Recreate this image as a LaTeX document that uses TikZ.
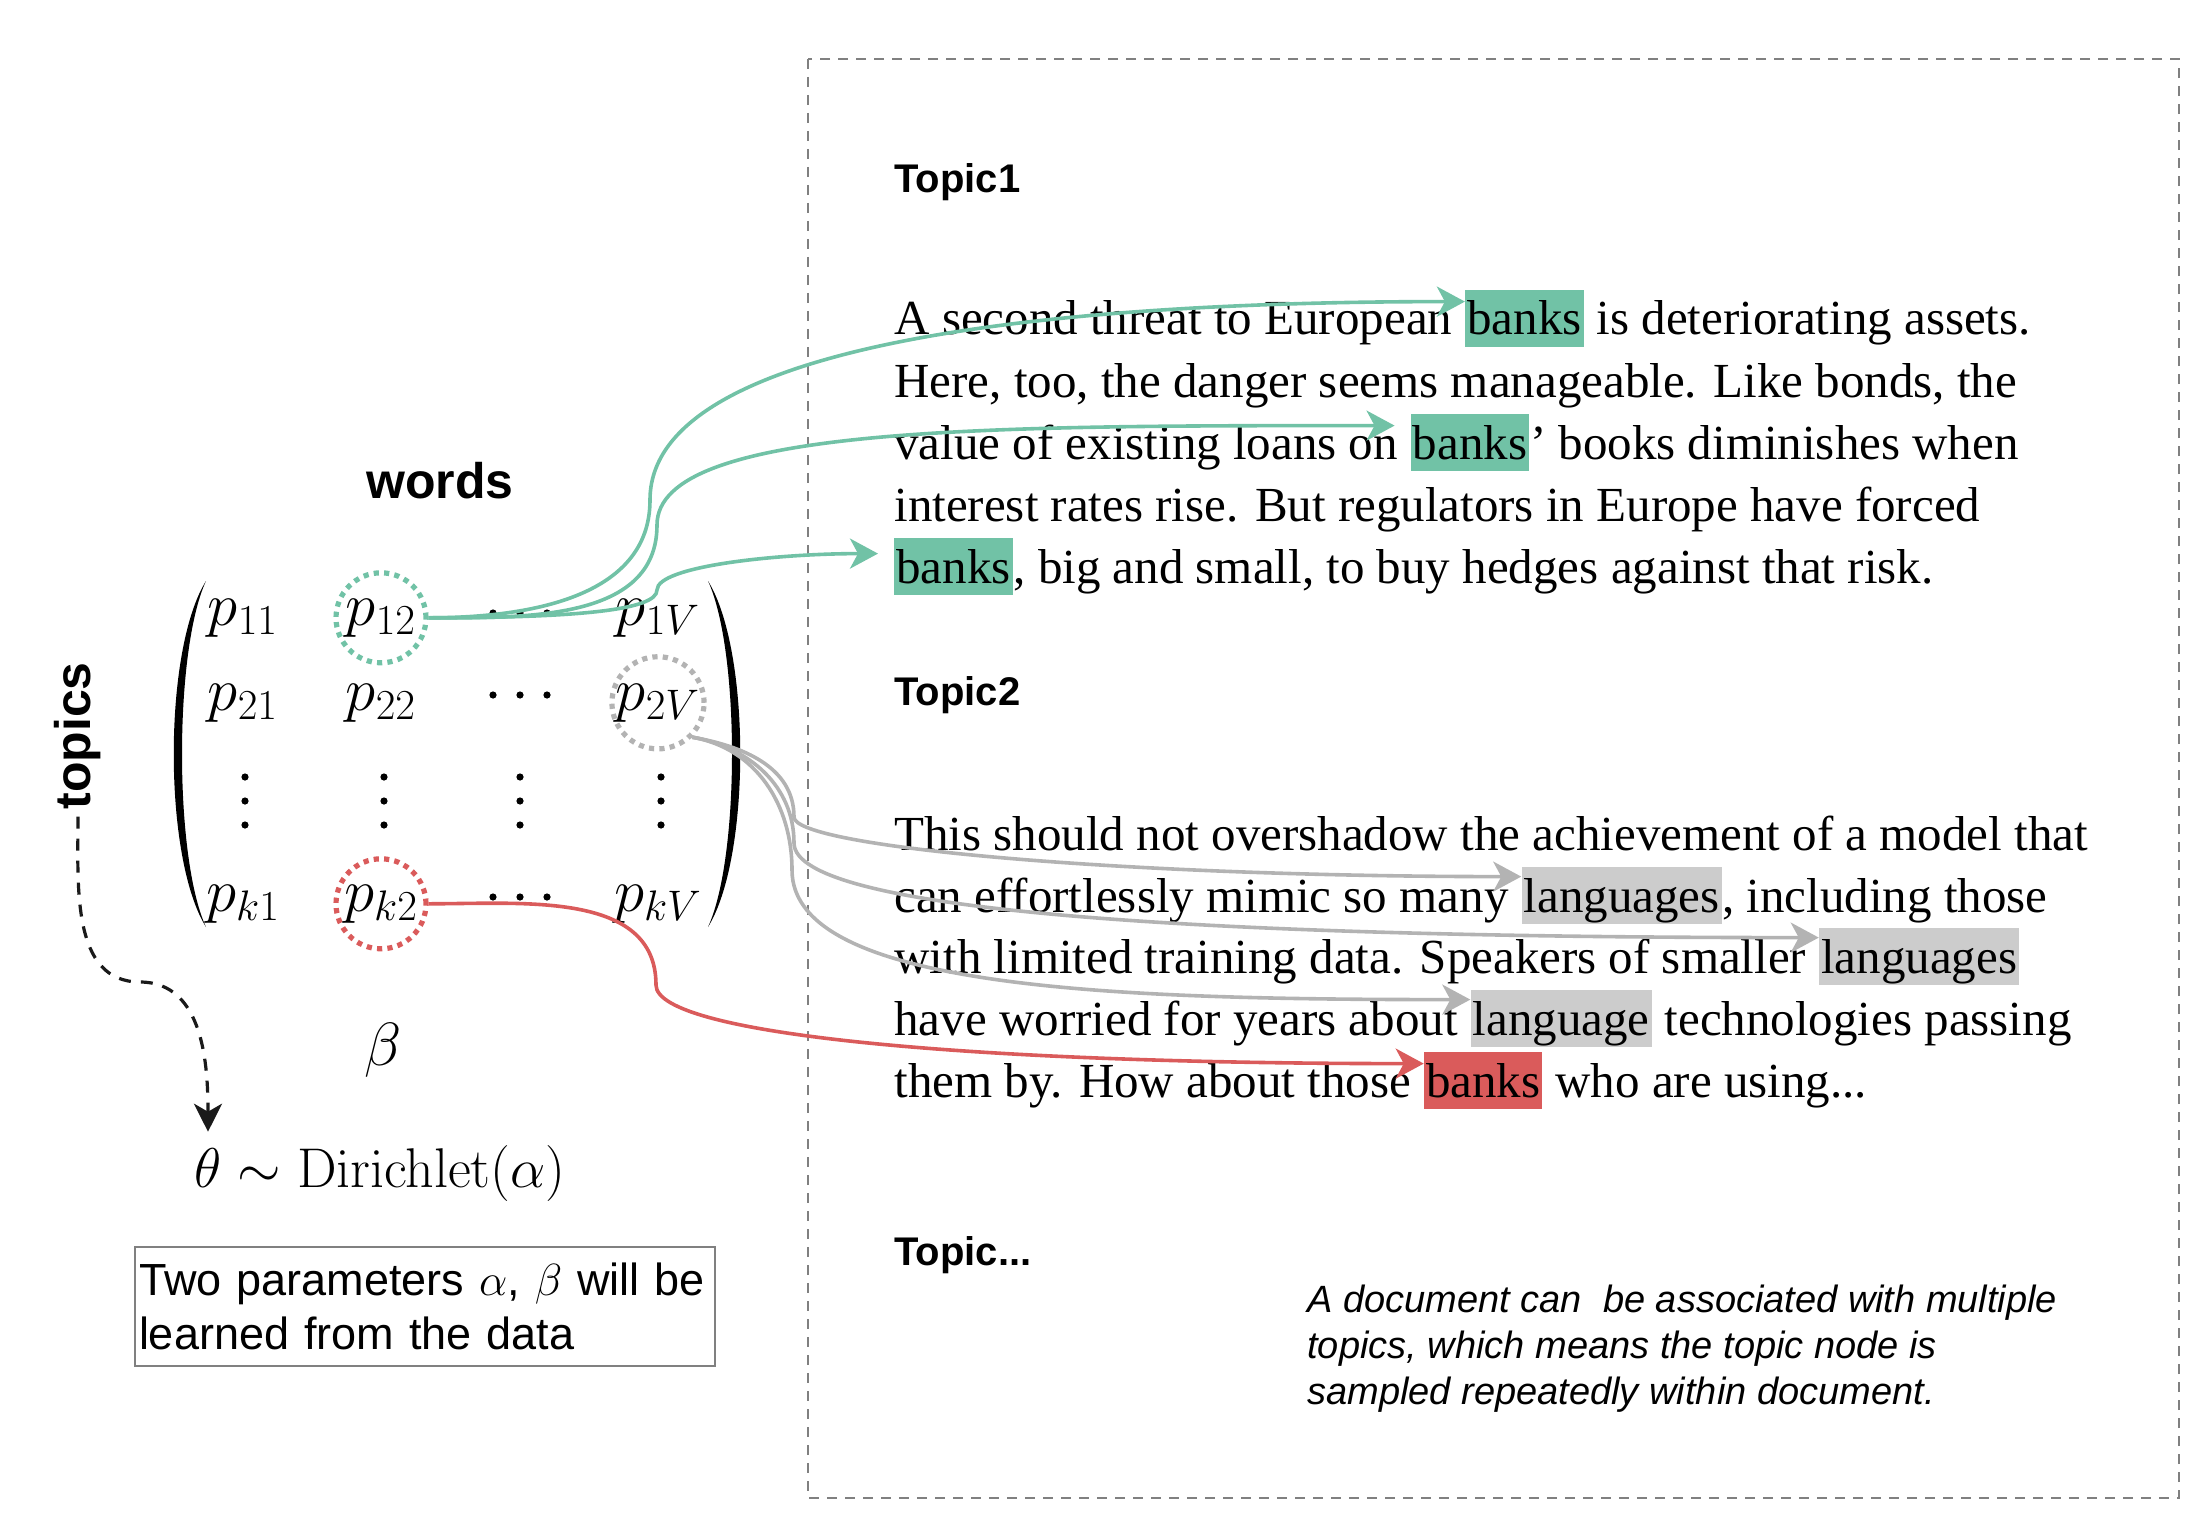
\documentclass[tikz,border=0pt]{standalone}
\usepackage{fix-cm}
\usepackage[no-math]{fontspec}
\setmainfont{Liberation Serif}
\setsansfont{Liberation Sans}
\usetikzlibrary{arrows.meta}
\definecolor{hlgreen}{HTML}{71C2A6}
\definecolor{hlred}{HTML}{DA5B5B}
\definecolor{hlgrey}{HTML}{CCCCCC}
\definecolor{linkgrey}{HTML}{B3B3B3}
\definecolor{framegrey}{HTML}{808080}
\definecolor{inkblack}{HTML}{1A1A1A}
\newcommand\docfont{\fontsize{24.5}{31}\selectfont}
\newcommand\cellfont{\fontsize{30.5}{36}\selectfont}
\newcommand\dirfont{\fontsize{28}{33}\selectfont}
\newcommand\topicfont{\sffamily\bfseries\fontsize{20}{24}\selectfont}
\newcommand\axisfont{\sffamily\bfseries\fontsize{25}{30}\selectfont}
\newcommand\notefont{\sffamily\itshape\fontsize{19}{23}\selectfont}
\newcommand\boxfont{\sffamily\fontsize{22.5}{27}\selectfont}
\newcommand\wsp{\kern\fontdimen2\font}
\tikzset{
  doc/.style={anchor=base west, inner sep=0pt, font=\docfont},
  hl/.style={doc, fill=#1, inner xsep=1pt, text height=22.5pt, text depth=6pt},
  cell/.style={anchor=base, inner sep=0pt, font=\cellfont},
  ring/.style={cell, circle, draw=#1, line width=2.6pt, dash pattern=on 2.6pt off 2.6pt,
               minimum size=45pt},
  topic/.style={anchor=base west, inner sep=0pt, font=\topicfont},
  link/.style={-{Stealth[length=14pt,width=15pt,inset=4pt]}, line width=1.8pt, draw=#1},
  dasharrow/.style={-{Stealth[length=14pt,width=14pt,inset=4pt]}, line width=1.6pt,
                    draw=inkblack, dash pattern=on 6pt off 5pt},
  frame/.style={draw=framegrey, line width=1.1pt, dash pattern=on 5pt off 4pt},
  parbox/.style={draw=framegrey, line width=1pt, inner xsep=2pt, inner ysep=8pt,
                 text width=286pt, align=left, font=\boxfont, anchor=north west},
  dot/.style={fill=black},
}
\begin{document}
\begin{tikzpicture}[x=0.5pt,y=0.5pt]
  \useasboundingbox (0,0) rectangle (2211,-1530);

  % document frame
  \draw[frame] (808,-59) rectangle (2179,-1498);

  % matrix beta
  \node[font=\axisfont] (words) at (440,-481) {words};
  \node[font=\axisfont, rotate=90] (topics) at (78,-736) {topics};
  \fill (206,-581) .. controls (163,-650) and (163,-858) .. (206,-927)
    .. controls (174,-858) and (174,-650) .. (206,-581);
  \fill (708,-581) .. controls (751,-650) and (751,-858) .. (708,-927)
    .. controls (740,-858) and (740,-650) .. (708,-581);

  \node[cell] (p11) at (243,-625) {$p_{11}$};
  \node[ring=hlgreen] (p12) at (381,-625) {$p_{12}$};
  \node[cell] (p1V) at (658,-625) {$p_{1V}$};
  \node[cell] (p21) at (243,-710) {$p_{21}$};
  \node[cell] (p22) at (381,-710) {$p_{22}$};
  \node[ring=linkgrey] (p2V) at (658,-710) {$p_{2V}$};
  \node[cell] (pk1) at (243,-911) {$p_{k1}$};
  \node[ring=hlred] (pk2) at (381,-911) {$p_{k2}$};
  \node[cell] (pkV) at (658,-911) {$p_{kV}$};

  \foreach \dx in {493,520,547}
    \foreach \ry in {613,695,897}
      \fill[dot] (\dx,-\ry) circle[radius=1.8pt];
  \foreach \cx in {245,384,520,661}
    \foreach \vy in {777,801,825}
      \fill[dot] (\cx,-\vy) circle[radius=1.8pt];

  \node[cell, anchor=center] (beta) at (383,-1050) {$\beta$};

  \node[anchor=base, inner xsep=0pt, inner ysep=8pt, font=\dirfont] (theta) at (208,-1187) {$\theta$};
  \node[anchor=base west, inner sep=0pt, font=\dirfont] (dir) at (theta.base east) {${}\sim\mathrm{Dirichlet}(\alpha)$};

  \node[parbox] (params) at (134,-1246) {Two parameters $\alpha$, $\beta$ will be\\ learned from the data};

  % topic 1
  \node[topic] (t1) at (894,-193) {Topic1};
  \node[doc] (a1) at (894,-335) {A second threat to European\wsp};
  \node[hl=hlgreen] (bk1) at (a1.base east) {banks};
  \node[doc] (a1r) at (bk1.base east) {\ is deteriorating assets.};
  \node[doc] (a2) at (894,-397) {Here, too, the danger seems manageable. Like bonds, the};
  \node[doc] (a3) at (894,-459) {value of existing loans on\wsp};
  \node[hl=hlgreen] (bk2) at (a3.base east) {banks};
  \node[doc] (a3r) at (bk2.base east) {’ books diminishes when};
  \node[doc] (a4) at (894,-521) {interest rates rise. But regulators in Europe have forced};
  \node[hl=hlgreen] (bk3) at (894,-583) {banks};
  \node[doc] (a5r) at (bk3.base east) {, big and small, to buy hedges against that risk.};

  % topic 2
  \node[topic] (t2) at (894,-705) {Topic2};
  \node[doc] (b1) at (894,-850) {This should not overshadow the achievement of a model that};
  \node[doc] (b2) at (894,-912) {can effortlessly mimic so many\wsp};
  \node[hl=hlgrey] (lg1) at (b2.base east) {languages};
  \node[doc] (b2r) at (lg1.base east) {, including those};
  \node[doc] (b3) at (894,-973) {with limited training data. Speakers of smaller\wsp};
  \node[hl=hlgrey] (lg2) at (b3.base east) {languages};
  \node[doc] (b4) at (894,-1035) {have worried for years about\wsp};
  \node[hl=hlgrey] (lg3) at (b4.base east) {language};
  \node[doc] (b4r) at (lg3.base east) {\ technologies passing};
  \node[doc] (b5) at (894,-1097) {them by. How about those\wsp};
  \node[hl=hlred] (bk4) at (b5.base east) {banks};
  \node[doc] (b5r) at (bk4.base east) {\ who are using...};

  \node[topic] (t3) at (894,-1265) {Topic...};
  \node[anchor=north west, inner sep=0pt, align=left, font=\notefont] (note) at (1307,-1285)
    {A document can\ \ be associated with multiple\\ topics, which means the topic node is\\ sampled repeatedly within document.};

  % connectors
  \coordinate (ga) at (650,-500);
  \coordinate (gb) at (657,-525);
  \coordinate (gc) at (657,-590);
  \draw[link=hlgreen] (p12.east) to[out=0,in=-90] (ga)
    to[out=90,in=180,out distance=75pt,in distance=225pt] ([yshift=-6pt]bk1.north west);
  \draw[link=hlgreen] (p12.east) to[out=0,in=-90] (gb)
    to[out=90,in=180,out distance=50pt,in distance=200pt] ([xshift=-8pt,yshift=-6pt]bk2.north west);
  \draw[link=hlgreen] (p12.east) to[out=0,in=-90,out distance=75pt,in distance=10pt] (gc)
    to[out=90,in=180,out distance=12pt,in distance=50pt] ([xshift=-8pt,yshift=-8pt]bk3.north west);

  \coordinate (wa) at (794,-817);
  \coordinate (wb) at (794,-843);
  \coordinate (wc) at (792,-870);
  \draw[link=linkgrey] (p2V.south east) to[out=-10,in=90] (wa)
    to[out=-90,in=180,out distance=15pt,in distance=200pt] ([yshift=-5pt]lg1.north west);
  \draw[link=linkgrey] (p2V.south east) to[out=-10,in=90] (wb)
    to[out=-90,in=180,out distance=35pt,in distance=300pt] ([yshift=-5pt]lg2.north west);
  \draw[link=linkgrey] (p2V.south east) to[out=-10,in=90] (wc)
    to[out=-90,in=180,out distance=60pt,in distance=175pt] ([yshift=-5pt]lg3.north west);

  \coordinate (rw) at (656,-985);
  \draw[link=hlred] (pk2.east) to[out=0,in=90] (rw)
    to[out=-90,in=180,out distance=25pt,in distance=225pt] ([yshift=-6pt]bk4.north west);

  \coordinate (tbend) at (140,-982);
  \draw[dasharrow] (topics.west) to[out=-90,in=180] (tbend) to[out=0,in=90] (theta.north);
\end{tikzpicture}
\end{document}
